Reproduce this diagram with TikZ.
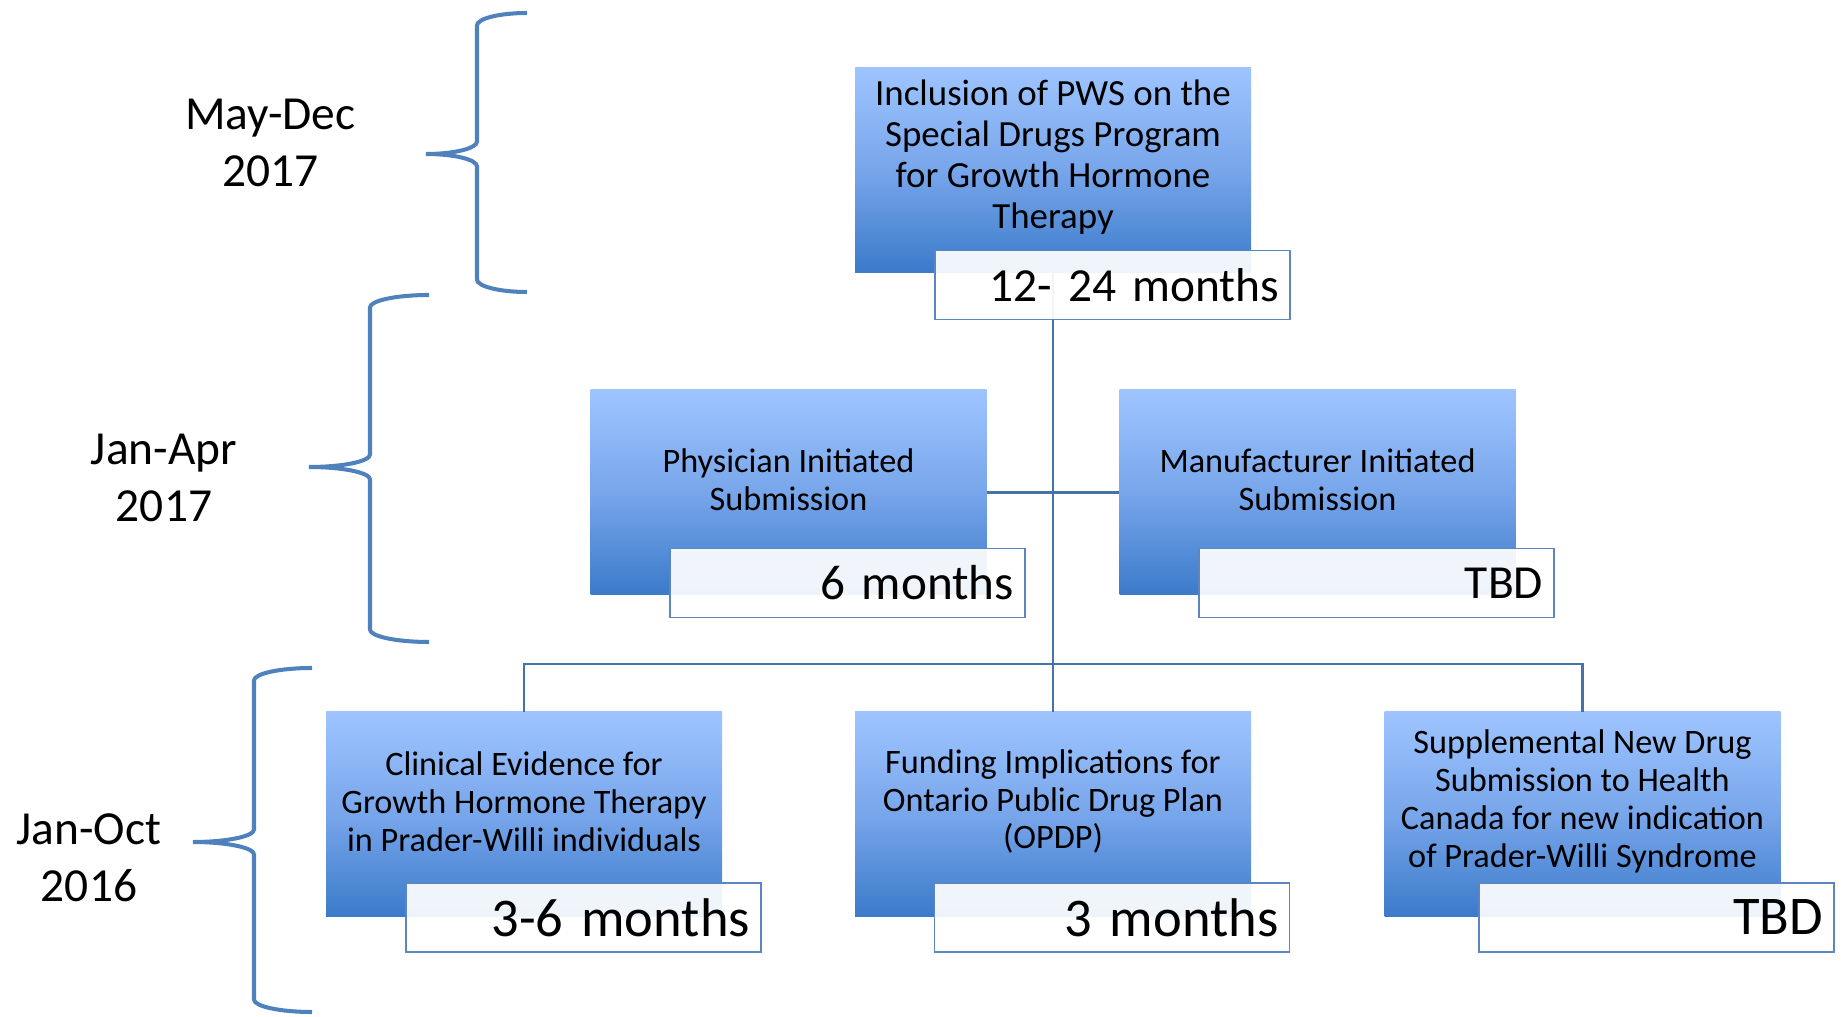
\documentclass[tikz,border=0pt]{standalone}
\usepackage{fontspec}
\setmainfont{Carlito}
\usepackage{tikz}
\definecolor{boxtop}{rgb}{0.62, 0.77, 1.0}
\definecolor{boxmid}{rgb}{0.47, 0.65, 0.92}
\definecolor{boxbot}{rgb}{0.23, 0.48, 0.79}
\definecolor{bracecol}{rgb}{0.31, 0.51, 0.74}
\definecolor{linecol}{rgb}{0.27, 0.45, 0.66}
\definecolor{labelcol}{rgb}{0.36, 0.52, 0.77}

\begin{document}
\begin{tikzpicture}[
		stage/.style={minimum width=7.92cm, minimum height=4.1cm, inner sep=0pt, top color=boxtop, bottom color=boxbot, middle color=boxmid},
		stagetext/.style={align=center, font=\fontsize{19.5}{21.5}\selectfont},
		dur/.style={draw=labelcol, line width=1.1pt, fill=white, fill opacity=0.92, text opacity=1, minimum width=7.1cm, minimum height=1.38cm, inner xsep=0.22cm, inner ysep=0pt, text width=6.66cm, align=right, font=\fontsize{31}{36}\selectfont},
		period/.style={align=center, font=\fontsize{27}{32.5}\selectfont},
		brace/.style={draw=bracecol, line width=2.3pt},
		link/.style={draw=linecol, line width=1.2pt}]
			\useasboundingbox (0,0) rectangle (36.86,20.32);
			% time periods
			\node[period] (maydec) at (5.41,17.46) {May-Dec\\2017};
			\node[period] (janapr) at (3.28,10.76) {Jan-Apr\\2017};
			\node[period] (janoct) at (1.78,3.16) {Jan-Oct\\2016};
			\draw[brace] (10.54,20.06) arc[start angle=90, end angle=180, x radius=1.00, y radius=0.25] -- (9.54,17.49)
				arc[start angle=0, end angle=-90, x radius=1.02, y radius=0.25] arc[start angle=90, end angle=0, x radius=1.02, y radius=0.25] -- (9.54,14.73)
				arc[start angle=180, end angle=270, x radius=1.00, y radius=0.25];
			\draw[brace] (8.58,14.42) arc[start angle=90, end angle=180, x radius=1.18, y radius=0.25] -- (7.40,11.23)
				arc[start angle=0, end angle=-90, x radius=1.22, y radius=0.25] arc[start angle=90, end angle=0, x radius=1.22, y radius=0.25] -- (7.40,7.73)
				arc[start angle=180, end angle=270, x radius=1.18, y radius=0.25];
			\draw[brace] (6.24,6.96) arc[start angle=90, end angle=180, x radius=1.16, y radius=0.25] -- (5.08,3.73)
				arc[start angle=0, end angle=-90, x radius=1.22, y radius=0.25] arc[start angle=90, end angle=0, x radius=1.22, y radius=0.25] -- (5.08,0.33)
				arc[start angle=180, end angle=270, x radius=1.16, y radius=0.25];
			% stages
			\node[stage] (incl) at (21.06,16.92) {};
			\node[stage] (phys) at (15.77,10.47) {};
			\node[stage] (manu) at (26.35,10.47) {};
			\node[stage] (clin) at (10.48,4.03) {};
			\node[stage] (fund) at (21.06,4.03) {};
			\node[stage] (supp) at (31.65,4.03) {};
			\node[stagetext, font=\fontsize{21}{23.3}\selectfont] (inclt) at ([yshift=0.26cm]incl.center) {Inclusion of PWS on the\\Special Drugs Program\\for Growth Hormone\\Therapy};
			\node[stagetext] (physt) at ([yshift=0.26cm]phys.center) {Physician Initiated\\Submission};
			\node[stagetext] (manut) at ([yshift=0.26cm]manu.center) {Manufacturer Initiated\\Submission};
			\node[stagetext] (clint) at ([yshift=0.26cm]clin.center) {Clinical Evidence for\\Growth Hormone Therapy\\in Prader-Willi individuals};
			\node[stagetext] (fundt) at ([yshift=0.26cm]fund.center) {Funding Implications for\\Ontario Public Drug Plan\\(OPDP)};
			\node[stagetext] (suppt) at ([yshift=0.26cm]supp.center) {Supplemental New Drug\\Submission to Health\\Canada for new indication\\of Prader-Willi Syndrome};
			% links
			\draw[link] (incl.south) -- (fund.north);
			\draw[link] (phys.east) -- (manu.west);
			\coordinate (bus) at ([yshift=0.96cm]fund.north);
			\draw[link] (clin.north) |- (bus) -| (supp.north);
			% durations
			\node[dur, font=\fontsize{27}{32}\selectfont] (inclm) at (22.25,14.62) {12- 24 months};
			\node[dur, font=\fontsize{28}{32}\selectfont] (physm) at (16.95,8.66) {6 months};
			\node[dur, font=\fontsize{27}{32}\selectfont] (manum) at (27.53,8.66) {TBD};
			\node[dur] (clinm) at (11.67,1.97) {3-6 months};
			\node[dur] (fundm) at (22.24,1.97) {3 months};
			\node[dur] (suppm) at (33.13,1.97) {TBD};
		\end{tikzpicture}
\end{document}
